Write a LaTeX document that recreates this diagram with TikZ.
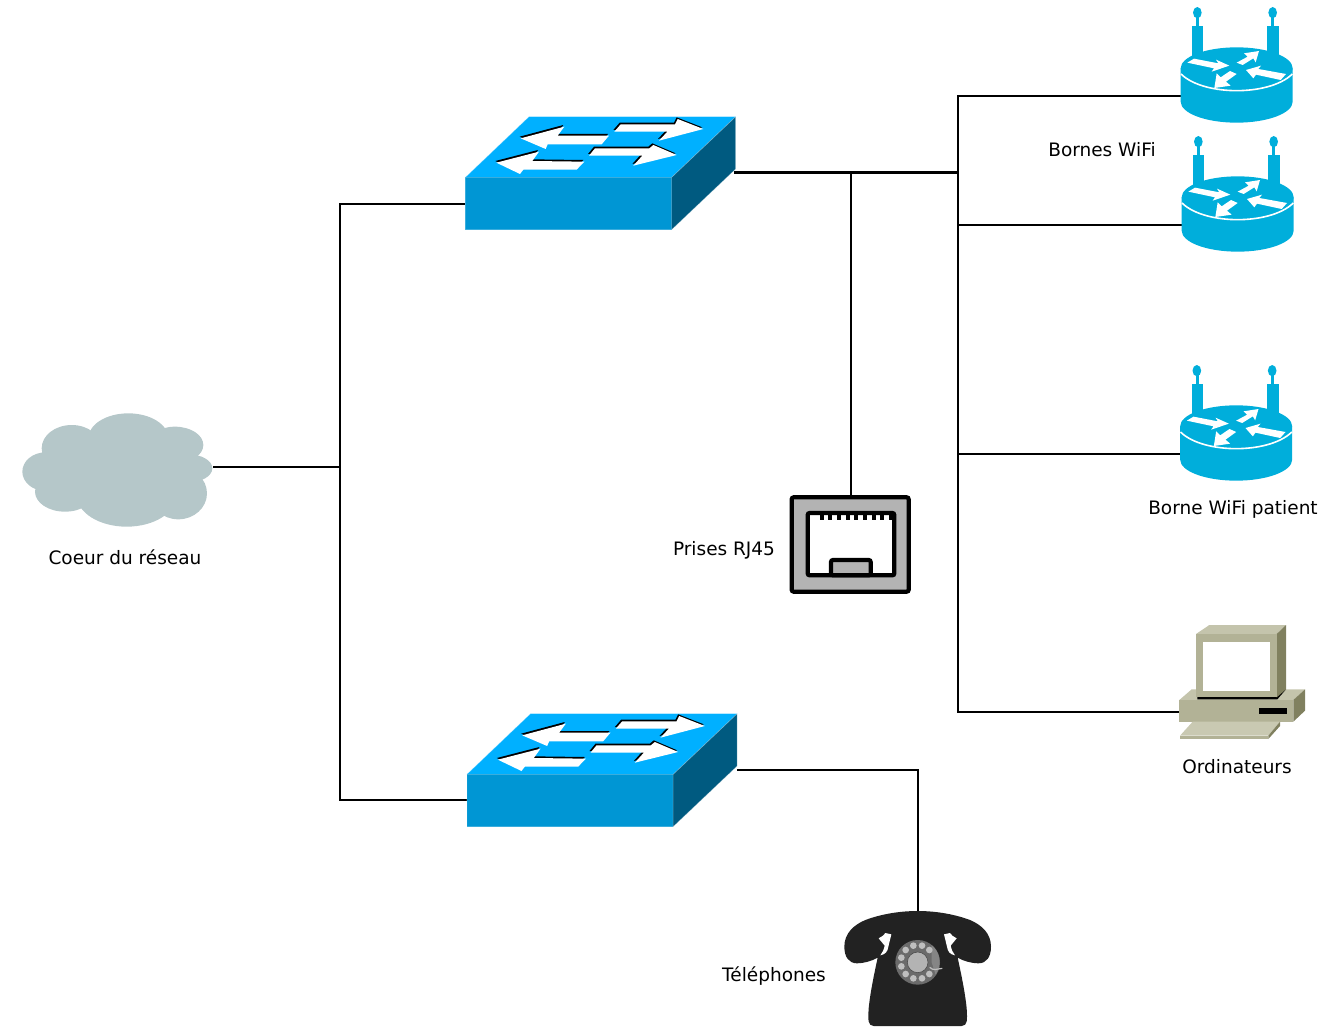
\documentclass[tikz,border=0pt]{standalone}
\usepackage{fontspec}
\setmainfont{DejaVu Sans}
\definecolor{swTop}{HTML}{00B0FF}
\definecolor{swFront}{HTML}{0096D4}
\definecolor{swSide}{HTML}{005A80}
\definecolor{rtBlue}{HTML}{00AEDB}
\definecolor{cloudC}{HTML}{B5C7C9}
\definecolor{pcFront}{HTML}{B2B296}
\definecolor{pcTop}{HTML}{C4C4AC}
\definecolor{pcSide}{HTML}{80805F}
\definecolor{kbC}{HTML}{C9C9B2}
\definecolor{rjGrey}{HTML}{B3B3B3}
\definecolor{phoneC}{HTML}{222222}
\tikzset{
  x=1pt,y=-1pt,
  zoomed/.style={x=0.33333pt,y=-0.33333pt},
  wire/.style={draw=black,line width=1.6pt},
  busline/.style={draw=black,line width=2.4pt},
  device/.style={inner sep=0pt,outer sep=0pt,rectangle},
  lbl/.style={inner sep=0pt,font=\fontsize{18.5}{21}\selectfont,text=black},
  switchpic/.pic={
    \begin{scope}[zoomed]
      \fill[swTop] (222,35) -- (842,35) -- (650,217) -- (31,217) -- cycle;
      \fill[swFront] (31,217) -- (650,217) -- (650,374) -- (31,374) -- cycle;
      \fill[swSide] (650,217) -- (842,35) -- (842,192) -- (650,374) -- cycle;
      \draw[white,opacity=.35,line width=.6pt] (31,374) -- (31,217) -- (222,35) -- (842,35) -- (842,192) -- (650,374) -- (31,374) (31,217) -- (650,217) -- (842,35) (650,217) -- (650,374);
      \foreach \dx/\dy/\col in {-3/-5/black,0/0/white}{
        \begin{scope}[shift={(\dx,\dy)}]
        \fill[\col] (197,100) -- (328,65) -- (308,92) -- (462,92) -- (440,118) -- (278,118) -- (272,132) -- cycle;
        \fill[\col] (124,173) -- (252,140) -- (232,168) -- (388,170) -- (365,194) -- (205,194) -- (195,207) -- cycle;
        \fill[\col] (745,72) -- (668,42) -- (660,58) -- (497,58) -- (478,80) -- (637,80) -- (612,107) -- cycle;
        \fill[\col] (665,150) -- (595,120) -- (583,130) -- (420,130) -- (402,152) -- (562,152) -- (535,182) -- cycle;
        \end{scope}
      }
    \end{scope}
  },
  routerpic/.pic={
    \begin{scope}[zoomed]
      \fill[rtBlue] (66,78) rectangle (100,170);
      \fill[rtBlue] (292,78) rectangle (328,170);
      \fill[rtBlue] (79,50) rectangle (87,80);
      \fill[rtBlue] (304,50) rectangle (312,80);
      \fill[rtBlue] (82,38) ellipse [x radius=13,y radius=17];
      \fill[rtBlue] (308,38) ellipse [x radius=13,y radius=17];
      \fill[rtBlue] (32,205) -- (32,305) arc [start angle=180,end angle=360,x radius=168,y radius=-63] -- (368,205) -- cycle;
      \fill[rtBlue] (200,205) ellipse [x radius=168,y radius=63];
      \draw[white,line width=1.6pt] (33,222) .. controls (70,258) and (140,272) .. (200,272) .. controls (260,272) and (330,258) .. (367,222);
      \fill[white] (52,188) -- (72,176) -- (145,190) -- (138,179) -- (178,197) -- (125,215) -- (132,205) -- cycle;
      \fill[white] (267,153) -- (222,160) -- (233,170) -- (200,188) -- (218,195) -- (250,175) -- (257,187) -- cycle;
      \fill[white] (228,210) -- (273,197) -- (265,207) -- (348,222) -- (332,240) -- (258,224) -- (250,235) -- cycle;
      \fill[white] (133,264) -- (140,220) -- (152,232) -- (180,213) -- (200,222) -- (168,245) -- (182,257) -- cycle;
    \end{scope}
  },
  computerpic/.pic={
    \begin{scope}[zoomed]
      \fill[pcTop] (28,240) -- (65,208) -- (405,208) -- (370,240) -- cycle;
      \fill[pcFront] (28,240) rectangle (370,305);
      \fill[pcSide] (370,240) -- (405,208) -- (405,272) -- (370,305) -- cycle;
      \fill[black] (268,264) rectangle (350,282);
      \fill[black] (82,228) -- (348,208) -- (322,238) -- (82,238) -- cycle;
      \fill[pcTop] (78,42) -- (118,15) -- (348,15) -- (320,42) -- cycle;
      \fill[pcSide] (320,42) -- (348,15) -- (348,208) -- (320,232) -- cycle;
      \fill[pcFront] (78,42) rectangle (320,232);
      \fill[white] (98,65) rectangle (300,212);
      \fill[kbC] (30,347) -- (68,305) -- (330,305) -- (295,347) -- cycle;
      \fill[pcFront] (30,347) -- (295,347) -- (295,357) -- (30,357) -- cycle;
      \fill[pcSide] (295,347) -- (330,305) -- (330,318) -- (295,357) -- cycle;
    \end{scope}
  },
  jackpic/.pic={
    \begin{scope}[zoomed]
      \draw[black,fill=rjGrey,line width=4.2pt,rounded corners=2pt] (35,22) rectangle (386,305);
      \draw[black,fill=white,line width=4.2pt,rounded corners=2pt] (83,69) rectangle (343,256);
      \foreach \tx in {125,151,177,203,229,255,281,307,333}{
        \fill[black] (\tx-6,69) rectangle (\tx+6,90);
      }
      \draw[black,fill=rjGrey,line width=4.2pt,rounded corners=2pt] (153,256) -- (153,210) -- (272,210) -- (272,256) -- cycle;
    \end{scope}
  },
  cloudpic/.pic={
    \begin{scope}[zoomed,cloudC]
      \fill (340,100) ellipse [x radius=120,y radius=75];
      \fill (170,130) ellipse [x radius=90,y radius=70];
      \fill (480,120) ellipse [x radius=85,y radius=55];
      \fill (92,200) ellipse [x radius=70,y radius=58];
      \fill (520,190) ellipse [x radius=72,y radius=42];
      \fill (150,260) ellipse [x radius=90,y radius=60];
      \fill (490,265) ellipse [x radius=86,y radius=78];
      \fill (335,270) ellipse [x radius=150,y radius=95];
      \fill (150,130) rectangle (500,280);
    \end{scope}
  },
  phonepic/.pic={
    \begin{scope}[zoomed]
      \fill[phoneC] (248,18) .. controls (310,18) and (365,30) .. (405,45)
        .. controls (440,60) and (468,85) .. (468,125)
        .. controls (468,155) and (455,175) .. (430,175)
        .. controls (410,175) and (385,168) .. (368,158)
        .. controls (378,205) and (390,260) .. (395,310)
        .. controls (397,345) and (398,362) .. (380,363) -- (116,363)
        .. controls (98,362) and (99,345) .. (101,310)
        .. controls (106,260) and (118,205) .. (128,158)
        .. controls (111,168) and (86,175) .. (66,175)
        .. controls (41,175) and (28,155) .. (28,125)
        .. controls (28,85) and (56,60) .. (91,45)
        .. controls (131,30) and (186,18) .. (248,18) -- cycle;
      \foreach \m/\o in {1/0,-1/496}{
        \begin{scope}[xshift=\o*0.33333pt,xscale=\m]
        \fill[white] (327,88) -- (345,84) -- (352,92) -- (365,100) -- (347,122) .. controls (350,135) and (353,142) .. (360,151) .. controls (345,148) and (338,140) .. (336,125) -- cycle;
        \end{scope}
      }
      \fill[black!58] (248,172) circle [radius=67];
      \fill[black!48] (290,120) arc [start angle=-50,end angle=35,radius=66] -- (290,172) -- cycle;
      \draw[black!70,fill=rjGrey,line width=.6pt] (248,172) circle [radius=31];
      \foreach \hx/\hy in {235/122,261/122,283/135,212/135,199/158,199/184,212/207,235/220,261/220,283/207}{
        \fill[black!25] (\hx,\hy) circle [radius=10];
      }
      \draw[black!25,line width=1.2pt] (284,187) .. controls (295,198) and (305,192) .. (322,190);
    \end{scope}
  }
}
\begin{document}
\begin{tikzpicture}
\useasboundingbox (0,0) rectangle (1336,1030);
% device footprints
\node[device,minimum width=191pt,minimum height=114pt] (cloud) at (117.5,470) {};
\node[device,minimum width=271pt,minimum height=114pt] (sw1) at (600.5,173) {};
\node[device,minimum width=270pt,minimum height=114pt] (sw2) at (602,770) {};
\node[device,minimum width=119pt,minimum height=96pt] (jack) at (850.5,544) {};
\node[device,minimum width=113pt,minimum height=115pt] (ap1) at (1237.5,65.5) {};
\node[device,minimum width=113pt,minimum height=115pt] (ap2) at (1238.5,194.5) {};
\node[device,minimum width=113pt,minimum height=115pt] (ap3) at (1237,423.5) {};
\node[device,minimum width=125pt,minimum height=114pt] (pc) at (1242.5,682) {};
\node[device,minimum width=147pt,minimum height=114pt] (phone) at (917.5,969) {};
% junctions
\coordinate (coreJ) at (339.7,467);
\coordinate (coreT) at (339.7,204);
\coordinate (coreB) at (339.7,800);
\coordinate (tap) at (851,172.5);
\coordinate (busJ) at (957.7,172.5);
\coordinate (busT) at (957.7,96);
\coordinate (busM) at (957.7,225);
\coordinate (busN) at (957.7,454);
\coordinate (busB) at (957.7,712);
\coordinate (telJ) at (918,770);
% connectors
\draw[wire] ([yshift=3pt]cloud.east) -- (coreJ);
\draw[wire] ([yshift=-31pt]sw1.west) -- (coreT) -- (coreB) -- ([yshift=-30pt]sw2.west);
\draw[busline] ([xshift=-2pt]sw1.east |- tap) -- (busJ);
\draw[wire] (tap) -- (tap |- jack.north);
\draw[wire] ([yshift=-30.5pt]ap1.west) -- (busT) -- (busB) -- ([yshift=-30pt]pc.west);
\draw[wire] (busM) -- ([yshift=-30.5pt]ap2.west);
\draw[wire] (busN) -- ([yshift=-30.5pt]ap3.west);
\draw[busline] (busJ) -- (busM);
\draw[wire] (sw2.east) -- (telJ) -- (telJ |- phone.north);
% devices
\pic at (15,405) {cloudpic};
\pic at (455,105) {switchpic};
\pic at (456.5,702) {switchpic};
\pic at (780,490) {jackpic};
\pic at (1170,0) {routerpic};
\pic at (1171,129) {routerpic};
\pic at (1169.5,358) {routerpic};
\pic at (1170,620) {computerpic};
\pic at (835,905) {phonepic};
% labels
\node[lbl] (lcore) at (125,557) {Coeur du réseau};
\node[lbl] (lrj) at (724,550) {Prises RJ45};
\node[lbl] (lwifi) at (1102,150) {Bornes WiFi};
\node[lbl] (lpat) at (1233,509) {Borne WiFi patient};
\node[lbl] (lpc) at (1237,767) {Ordinateurs};
\node[lbl] (ltel) at (774,976) {Téléphones};
\end{tikzpicture}
\end{document}
